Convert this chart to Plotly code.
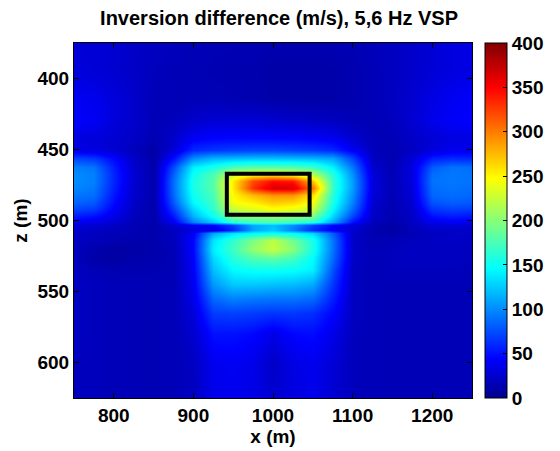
import plotly.graph_objects as go

# x positions (m)
x_m = [750, 775, 800, 825, 850, 875, 900, 925, 950, 975, 1000, 1025, 1050,
       1075, 1100, 1125, 1150, 1175, 1200, 1225, 1250]
# depth positions (m)
z_m = [375, 395, 415, 430, 442, 450, 456, 462, 467, 472, 477, 482, 487, 492,
       497, 501, 503.5, 506.5, 509, 514, 520, 527, 535, 545, 555, 565, 580,
       600, 625]

# inversion difference (m/s), one row per depth
diff = [
    [28, 28, 26, 22, 20, 18, 16, 15, 15, 14, 13, 13, 13, 14, 15, 18, 20, 24, 28, 32, 34],
    [30, 28, 26, 22, 18, 16, 15, 14, 13, 12, 10, 10, 10, 11, 13, 16, 20, 24, 28, 32, 34],
    [40, 38, 30, 24, 16, 15, 16, 16, 15, 13, 11, 10, 10, 11, 13, 16, 20, 26, 34, 40, 42],
    [42, 40, 30, 24, 16, 18, 24, 28, 28, 28, 26, 24, 22, 20, 16, 15, 18, 26, 36, 42, 44],
    [32, 30, 26, 22, 14, 24, 40, 45, 45, 45, 45, 44, 42, 38, 26, 16, 16, 22, 28, 32, 32],
    [35, 32, 26, 18, 10, 30, 60, 65, 68, 70, 70, 68, 65, 60, 40, 18, 14, 20, 30, 38, 38],
    [70, 65, 45, 22, 10, 50, 100, 115, 118, 120, 120, 118, 115, 110, 70, 20, 14, 28, 55, 60, 58],
    [95, 90, 55, 25, 12, 75, 140, 155, 175, 180, 180, 178, 170, 140, 90, 25, 15, 32, 80, 90, 88],
    [100, 95, 58, 26, 12, 85, 150, 175, 225, 240, 245, 235, 215, 160, 100, 28, 15, 32, 88, 92, 90],
    [100, 95, 58, 26, 12, 90, 155, 180, 255, 320, 345, 340, 270, 165, 105, 30, 15, 32, 90, 92, 90],
    [98, 92, 56, 25, 12, 90, 155, 180, 255, 330, 365, 365, 300, 165, 105, 30, 15, 30, 88, 90, 88],
    [92, 88, 52, 24, 12, 88, 150, 175, 250, 275, 290, 290, 260, 160, 100, 28, 15, 28, 85, 88, 85],
    [85, 80, 48, 22, 12, 82, 145, 170, 245, 255, 270, 265, 245, 155, 95, 26, 14, 26, 78, 82, 80],
    [72, 68, 42, 20, 12, 70, 130, 165, 225, 235, 245, 240, 225, 145, 85, 24, 14, 24, 65, 70, 68],
    [55, 50, 35, 18, 12, 55, 115, 150, 195, 200, 205, 200, 195, 130, 70, 22, 14, 22, 50, 55, 52],
    [40, 36, 26, 16, 12, 40, 95, 125, 165, 175, 178, 172, 160, 110, 50, 18, 12, 20, 38, 40, 38],
    [28, 26, 20, 15, 12, 25, 40, 45, 70, 110, 120, 100, 70, 45, 30, 15, 10, 18, 28, 28, 26],
    [24, 22, 18, 15, 12, 20, 30, 30, 60, 110, 125, 95, 60, 40, 25, 14, 8, 16, 22, 22, 22],
    [22, 20, 16, 14, 12, 20, 40, 110, 135, 145, 150, 145, 130, 80, 22, 14, 10, 16, 20, 22, 22],
    [20, 18, 14, 12, 12, 18, 45, 135, 165, 195, 220, 190, 155, 90, 22, 15, 16, 18, 20, 22, 20],
    [18, 12, 8, 10, 12, 16, 45, 140, 170, 205, 225, 200, 155, 90, 22, 16, 18, 20, 20, 20, 18],
    [18, 10, 8, 12, 12, 16, 42, 130, 160, 175, 180, 170, 145, 85, 22, 16, 18, 20, 20, 20, 18],
    [20, 16, 14, 14, 14, 16, 40, 120, 145, 150, 150, 148, 140, 75, 20, 16, 18, 18, 18, 18, 16],
    [20, 18, 16, 16, 15, 16, 38, 105, 125, 125, 122, 120, 112, 65, 20, 16, 16, 16, 16, 16, 16],
    [20, 18, 16, 16, 15, 16, 35, 85, 95, 92, 90, 90, 85, 55, 20, 16, 16, 16, 16, 16, 16],
    [20, 18, 16, 16, 15, 16, 30, 68, 70, 68, 65, 66, 62, 45, 20, 16, 16, 16, 16, 16, 16],
    [20, 18, 16, 16, 15, 16, 25, 50, 50, 46, 35, 46, 48, 35, 18, 16, 16, 16, 16, 16, 16],
    [18, 18, 16, 16, 15, 16, 20, 38, 40, 36, 22, 34, 38, 28, 18, 16, 16, 16, 16, 16, 16],
    [18, 18, 16, 16, 15, 16, 20, 36, 38, 34, 26, 32, 36, 26, 18, 16, 16, 16, 16, 16, 16],
]

# target box outline (m)
box_x = [942, 1046]
box_z = [467, 496]

x_ticks = [800, 900, 1000, 1100, 1200]
z_ticks = [400, 450, 500, 550, 600]
cb_ticks = [0, 50, 100, 150, 200, 250, 300, 350, 400]

jet = [
    [0.0, "rgb(0,0,143)"],
    [0.111, "rgb(0,0,255)"],
    [0.365, "rgb(0,255,255)"],
    [0.619, "rgb(255,255,0)"],
    [0.873, "rgb(255,0,0)"],
    [1.0, "rgb(128,0,0)"],
]

font_family = "Liberation Sans, Arial, sans-serif"
tick_font = dict(family=font_family, size=19, color="black", weight="bold")

fig = go.Figure()
fig.add_trace(go.Heatmap(
    x=x_m, y=z_m, z=diff,
    colorscale=jet, zmin=0, zmax=400, zsmooth="best",
    colorbar=dict(
        x=1.032, xanchor="left", xpad=0, y=0.5, yanchor="middle",
        len=1, lenmode="fraction", ypad=0,
        thickness=22, outlinewidth=1, outlinecolor="black",
        tickvals=cb_ticks, ticks="inside", ticklen=4, tickcolor="black",
        tickfont=tick_font,
    ),
    showscale=True,
))

fig.add_shape(type="rect", xref="x", yref="y",
              x0=box_x[0], x1=box_x[1], y0=box_z[0], y1=box_z[1],
              line=dict(color="black", width=4))

axis_common = dict(
    showgrid=False, zeroline=False, showline=True, linecolor="black",
    linewidth=1, mirror="ticks", ticks="inside", ticklen=5,
    tickcolor="black", tickfont=tick_font,
)

fig.update_xaxes(range=[750, 1250], tickvals=x_ticks,
                 title=dict(text="x (m)", standoff=0,
                            font=dict(family=font_family, size=19, color="black", weight="bold")),
                 **axis_common)
fig.update_yaxes(range=[625, 375], tickvals=z_ticks,
                 title=dict(text="z (m)", standoff=4,
                            font=dict(family=font_family, size=19, color="black", weight="bold")),
                 **axis_common)

fig.update_layout(
    width=552, height=443,
    margin=dict(l=65, r=80, t=35, b=49),
    paper_bgcolor="white", plot_bgcolor="white",
    title=dict(text="Inversion difference (m/s), 5,6 Hz VSP",
               x=0.491, xanchor="center", y=0.977, yanchor="middle",
               font=dict(family=font_family, size=20, color="black", weight="bold")),
)

fig.write_html("out.html")
